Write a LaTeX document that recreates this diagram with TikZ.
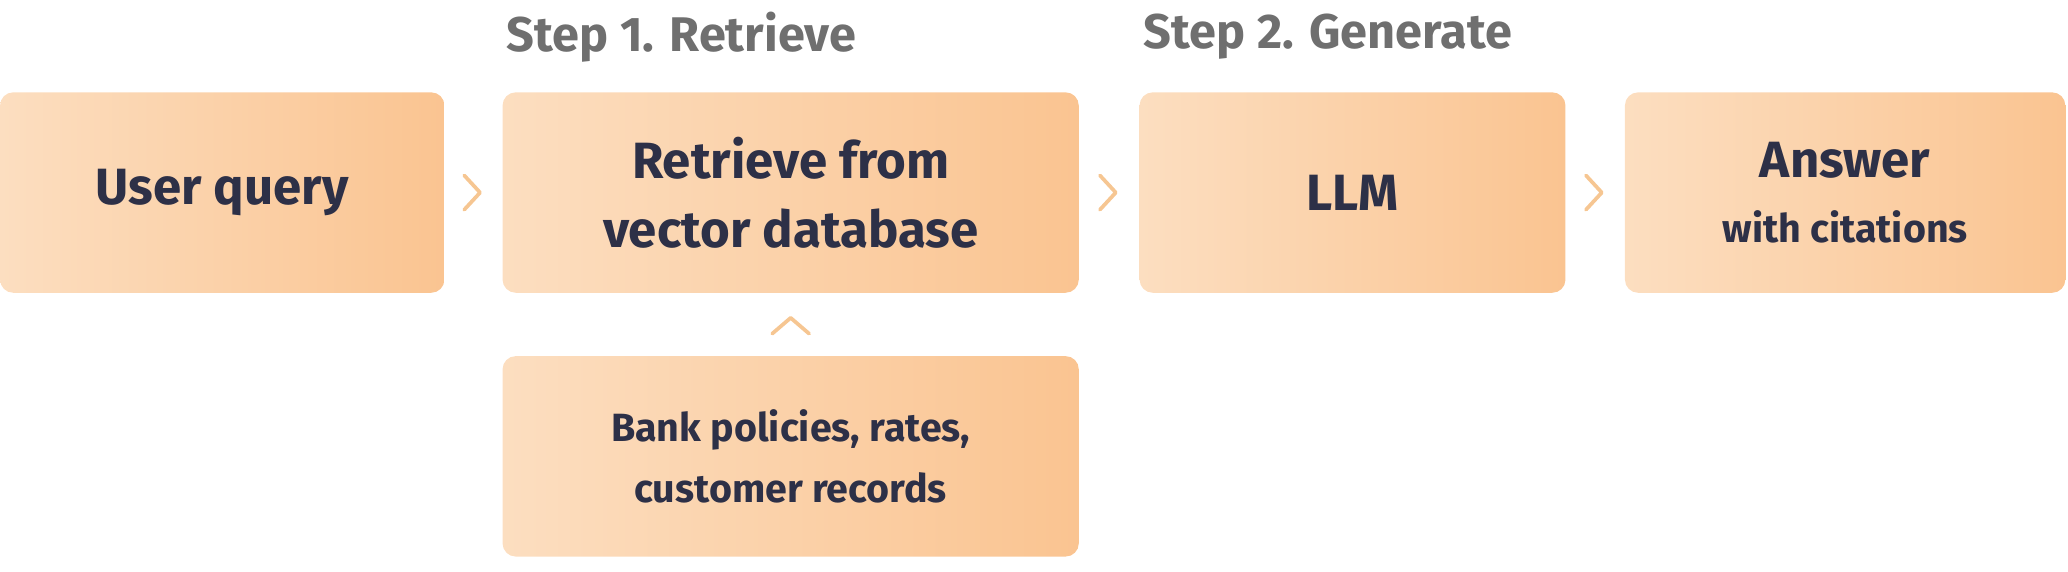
\documentclass[tikz,border=0pt]{standalone}
\usepackage{fontspec}
\setmainfont{Fira Sans}
\usetikzlibrary{positioning,calc}
\definecolor{peachL}{HTML}{FCDEC0}
\definecolor{peachR}{HTML}{FAC491}
\definecolor{inkblue}{HTML}{2D3047}
\definecolor{stepgray}{HTML}{6F6F6F}
\definecolor{chevcol}{HTML}{F6C692}

\begin{document}
\begin{tikzpicture}[x=0.02cm, y=-0.02cm, semithick]
  \tikzstyle{box}=[rounded corners=0.2cm, left color=peachL, right color=peachR,
    draw=none, text=inkblue, align=center, minimum height=3.04cm,
    font=\fontsize{22}{30}\selectfont\bfseries]
  \tikzstyle{steplabel}=[text=stepgray, anchor=west, font=\fontsize{21}{25}\selectfont\bfseries]
  \tikzstyle{chev}=[draw=chevcol, line width=1.6pt, line cap=round, line join=round]

  \useasboundingbox (0,0) rectangle (1568,433);

  \node[box, minimum width=6.74cm] (query)    at (168.5,146) {User query};
  \node[box, minimum width=8.74cm] (retrieve) at (599.5,146) {Retrieve from\\vector database};
  \node[box, minimum width=6.46cm] (llm)      at (1025.5,146) {LLM};
  \node[box, minimum width=6.68cm] (answer)   at (1399,146)
    {Answer\\[-2pt]{\fontsize{17}{20}\selectfont\mdseries\bfseries with citations}};
  \node[box, minimum width=8.74cm, font=\fontsize{17}{26}\selectfont\bfseries] (bank)
    at (599.5,346) {Bank policies, rates,\\customer records};

  \node[steplabel] (step1) at (378,28) {Step 1. Retrieve};
  \node[steplabel] (step2) at (861,28) {Step 2. Generate};

  % chevrons between boxes
  \foreach \a/\b in {query/retrieve, retrieve/llm, llm/answer}
    \draw[chev] ($(\a.east)!0.5!(\b.west)$) ++(-7,-13) -- ++(12,13) -- ++(-12,13);
  \draw[chev] ($(retrieve.south)!0.5!(bank.north)$) ++(-14,7) -- ++(14,-12) -- ++(14,12);
\end{tikzpicture}
\end{document}
